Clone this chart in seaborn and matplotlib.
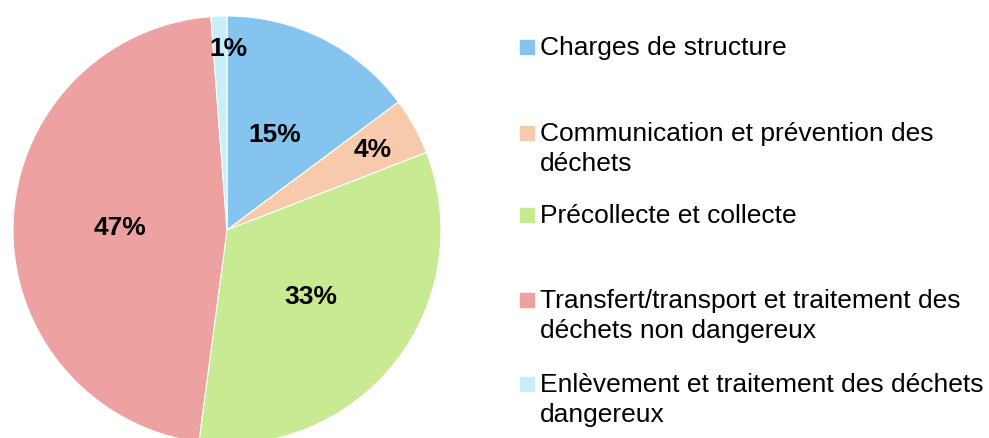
import numpy as np
import seaborn as sns
import matplotlib
import matplotlib.pyplot as plt

matplotlib.use("Agg")

categories = [
    "Charges de structure",
    "Communication et prévention des\ndéchets",
    "Précollecte et collecte",
    "Transfert/transport et traitement des\ndéchets non dangereux",
    "Enlèvement et traitement des déchets\ndangereux",
]
shares = [14.8, 4.3, 33.0, 46.7, 1.2]
pct_labels = ["15%", "4%", "33%", "47%", "1%"]
colors = ["#85C4EE", "#F7CAAC", "#C8EA93", "#EDA1A1", "#C8EEF9"]

sns.set_theme(style="white")
plt.rcParams["font.family"] = ["Liberation Sans", "DejaVu Sans"]
palette = sns.color_palette(colors)

fig = plt.figure(figsize=(9.89, 4.39), dpi=100)
W, H = 989, 439

# pie centre (227, 231) px, radius 214 px - bottom gets clipped by the figure edge
cx, cy, r = 227, 231, 214
ax = fig.add_axes([(cx - r) / W, (H - cy - r) / H, 2 * r / W, 2 * r / H])
wedges, _ = ax.pie(
    shares,
    colors=palette,
    startangle=90,
    counterclock=False,
    radius=1,
    wedgeprops=dict(edgecolor="white", linewidth=0.8),
)
ax.set_xlim(-1, 1)
ax.set_ylim(-1, 1)
ax.set_aspect("equal")
ax.axis("off")

# label distances from the centre, small slices pushed outward like the original
dists = [0.5, 0.78, 0.5, 0.5, 0.85]
for i, (w, lab, d) in enumerate(zip(wedges, pct_labels, dists)):
    mid = np.deg2rad((w.theta1 + w.theta2) / 2)
    x = d * np.cos(mid) + (0.04 if i == 4 else 0)
    ax.text(x, d * np.sin(mid), lab, ha="center", va="center",
            fontsize=19, fontweight="bold", color="black")

# legend drawn by hand to keep the uneven spacing of the original
first_line_y = [48, 134, 216, 301, 385]
for name, col, y0 in zip(categories, palette, first_line_y):
    fig.patches.append(plt.Rectangle((520 / W, (H - y0 - 7) / H), 14 / W, 14 / H,
                                     transform=fig.transFigure, color=col))
    for i, line in enumerate(name.split("\n")):
        fig.text(540 / W, (H - y0 - i * 30) / H, line, ha="left", va="center",
                 fontsize=19, color="black")

fig.savefig("out.png", dpi=100)
